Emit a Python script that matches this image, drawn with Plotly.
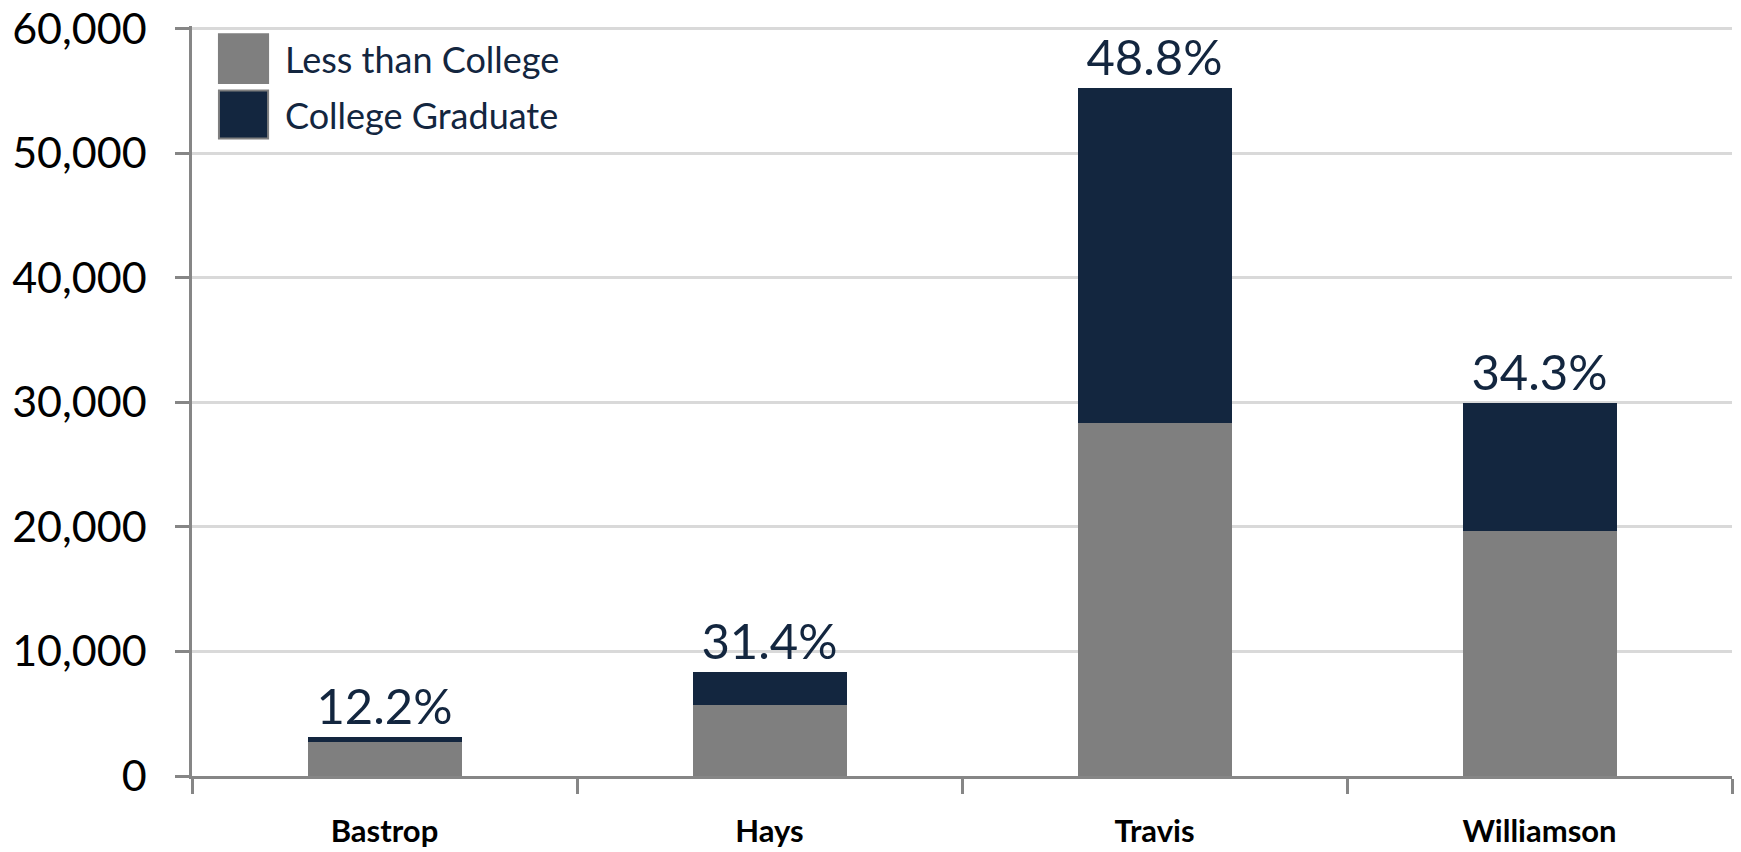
import plotly.graph_objects as go

counties = ['Bastrop', 'Hays', 'Travis', 'Williamson']
less_than_college = [2740, 5700, 28300, 19650]
college_graduate = [380, 2610, 26950, 10270]
pct_labels = ['12.2%', '31.4%', '48.8%', '34.3%']
y_ticks = [0, 10000, 20000, 30000, 40000, 50000, 60000]

grey = '#7F7F7F'
navy = '#13263F'
font = 'Lato, Open Sans, sans-serif'

fig = go.Figure()
fig.add_trace(go.Bar(x=counties, y=less_than_college, name='Less than College',
                     marker=dict(color=grey, line=dict(width=0))))
fig.add_trace(go.Bar(x=counties, y=college_graduate, name='College Graduate',
                     marker=dict(color=navy, line=dict(width=0)),
                     text=pct_labels, textposition='outside', constraintext='none',
                     cliponaxis=False,
                     outsidetextfont=dict(family=font, size=49, color=navy)))

# range goes a hair past 60,000 so plotly keeps the top gridline
fig.update_layout(
    barmode='stack',
    bargap=0.6,
    width=1741, height=852,
    margin=dict(l=192, r=9, t=26, b=76),
    plot_bgcolor='white', paper_bgcolor='white',
    showlegend=False,
    xaxis=dict(showline=True, linecolor='#868686', linewidth=2.5,
               ticks='outside', tickson='boundaries', ticklen=15, tickwidth=2.5,
               tickcolor='#868686', ticklabelstandoff=26, automargin=False,
               tickfont=dict(family=font, size=31, color='black', weight='bold')),
    yaxis=dict(range=[0, 60200], tickvals=y_ticks, tickformat=',d',
               showline=True, linecolor='#868686', linewidth=2.5,
               ticks='outside', ticklen=14, tickwidth=2.5, tickcolor='#868686',
               showgrid=True, gridcolor='#D9D9D9', gridwidth=2.5,
               zeroline=False, ticklabelstandoff=20, ticklabeloverflow='allow',
               automargin=False,
               tickfont=dict(family=font, size=43, color='black')),
)

# legend drawn by hand so the swatches can be as big as in the original
legend_items = [('Less than College', grey, 0.989, 0.924),
                ('College Graduate', navy, 0.914, 0.850)]
for label, color, y1, y0 in legend_items:
    fig.add_shape(type='rect', xref='paper', yref='paper',
                  x0=0.0175, x1=0.0494, y0=y0, y1=y1,
                  fillcolor=color, line=dict(color=grey, width=2))
    fig.add_annotation(xref='paper', yref='paper', x=0.059, y=(y0 + y1) / 2,
                       text=label, showarrow=False, xanchor='left', yanchor='middle',
                       font=dict(family=font, size=36, color=navy))

# drop the browser's default body margin so the figure fills the window
fig.write_html('out.html', config={'displayModeBar': False},
               post_script="document.body.style.margin = '0';")
